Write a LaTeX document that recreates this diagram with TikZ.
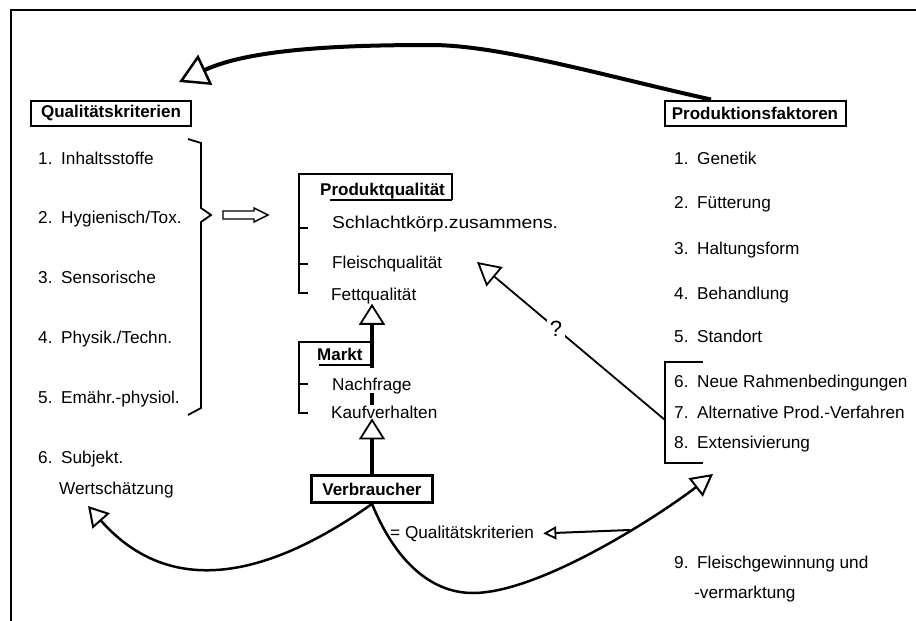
\documentclass[tikz,border=0pt]{standalone}
\usepackage{fontspec}
\setmainfont{Liberation Sans}
\usetikzlibrary{arrows.meta}
\newcommand{\itemno}[1]{\makebox[23pt][l]{#1}}
\begin{document}
\begin{tikzpicture}[x=1pt,y=-1pt,
  txt/.style={anchor=base west, inner sep=0pt, font=\fontsize{17.2}{20}\selectfont},
  boldtxt/.style={anchor=base west, inner sep=0pt, font=\fontsize{17}{20}\selectfont\bfseries},
  hbox/.style={draw, line width=2pt, inner sep=0pt, font=\fontsize{17}{20}\selectfont\bfseries},
  thinline/.style={line width=1.8pt},
  bigtri/.style={-{Triangle[open,length=21pt,width=26pt,line width=1.8pt]}},
]
\useasboundingbox (0,0) rectangle (916,621);
% frame
\draw[line width=1.6pt] (11,621) -- (11,10) -- (916,10);

% headings
\node[hbox, minimum width=160pt, minimum height=25pt] (qk) at (111,113) {Qualitätskriterien};
\node[hbox, minimum width=181pt, minimum height=25pt] (pf) at (755,113) {Produktionsfaktoren};

% left list
\node[txt] (l1) at (38,164) {\itemno{1.}Inhaltsstoffe};
\node[txt] (l2) at (38,223) {\itemno{2.}Hygienisch/Tox.};
\node[txt] (l3) at (38,283) {\itemno{3.}Sensorische};
\node[txt] (l4) at (38,343) {\itemno{4.}Physik./Techn.};
\node[txt] (l5) at (38,403) {\itemno{5.}Emähr.-physiol.};
\node[txt] (l6) at (38,463) {\itemno{6.}Subjekt.};
\node[txt] (l6b) at (59,494) {Wertschätzung};

% right list
\node[txt] (r1) at (674,164) {\itemno{1.}Genetik};
\node[txt] (r2) at (674,208) {\itemno{2.}Fütterung};
\node[txt] (r3) at (674,254) {\itemno{3.}Haltungsform};
\node[txt] (r4) at (674,299) {\itemno{4.}Behandlung};
\node[txt] (r5) at (674,342) {\itemno{5.}Standort};
\node[txt] (r6) at (674,387) {\itemno{6.}Neue Rahmenbedingungen};
\node[txt] (r7) at (674,418) {\itemno{7.}Alternative Prod.-Verfahren};
\node[txt] (r8) at (674,448) {\itemno{8.}Extensivierung};
\node[txt] (r9) at (674,568) {\itemno{9.}Fleischgewinnung und};
\node[txt] (r9b) at (694,598) {-vermarktung};

% centre: Produktqualitaet
\node[boldtxt] (pq) at (320,195) {Produktqualität};
\node[txt] (s1) at (332,228) {\scalebox{1.12}[1]{Schlachtkörp.zusammens.}};
\node[txt] (s2) at (332,268) {Fleischqualität};
\node[txt] (s3) at (331,300) {Fettqualität};
\draw[thinline] (452,200) -- (452,174) -- (299,174) -- (299,293) -- (308,293);
\draw[thinline] (330,200) -- (452,200);
\draw[thinline] (299,228) -- (308,228);
\draw[thinline] (299,264) -- (308,264);

% Markt
\node[boldtxt] (mk) at (317,360) {Markt};
\node[txt] (kv) at (331,418) {Kaufverhalten};
\draw[thinline] (373,342) -- (299,342) -- (299,413) -- (308,413);
\draw[thinline] (319,365) -- (373,365);
\draw[thinline] (299,384) -- (308,384);

% Verbraucher
\node[hbox, line width=2.8pt, minimum width=121pt, minimum height=27pt] (vb) at (372,489) {Verbraucher};
\node[txt] (qk2) at (390,538) {= Qualitätskriterien};

% thick vertical arrows
\draw[line width=4.5pt, bigtri] (vb.north |- kv.north) -- (vb.north |- s3.south);
\draw[line width=4.5pt, bigtri] (vb.north) -- (vb.north |- kv.south);
\node[txt, fill=white, text height=22pt, text depth=3pt] (nf) at (332,390) {Nachfrage};

% brace and hollow block arrow
\draw[thinline, line join=miter] (188,139) -- (201,143) -- (201,208) -- (211,215) -- (201,222) -- (201,408) -- (188,415);
\draw[line width=1.4pt, line join=miter] (223,211) -- (254,211) -- (254,208) -- (268,215) -- (254,222) -- (254,219) -- (223,219) -- cycle;

% bracket 6-8 and question arrow
\draw[thinline] (703,362) -- (665,362) -- (665,463) -- (703,463);
\coordinate (brk) at (665,420);
\coordinate (fqtip) at (477,262);
\draw[thinline, -{Triangle[open,length=23pt,width=25pt,line width=1.8pt]}] (brk) -- node[pos=0.58, fill=white, inner sep=3pt, font=\fontsize{22}{24}\selectfont] (qm) {?} (fqtip);

% top curve
\coordinate (qtip) at (179,82);
\draw[line width=4pt, -{Triangle[open,length=29pt,width=33pt,line width=2.5pt]}] ([xshift=-44pt]pf.north) .. controls (609,77) and (500,45) .. (431,45) .. controls (350,45) and (252,48) .. (qtip);

% curves from Verbraucher
\coordinate (wtip) at (88,506);
\coordinate (ptip) at (713,474);
\coordinate (br) at (630,530);
\draw[line width=2.5pt, -{Triangle[open,length=20pt,width=23pt,line width=2pt]}] (vb.south) .. controls (273,574) and (173,602) .. (wtip);
\draw[line width=2.5pt, -{Triangle[open,length=22pt,width=23pt,line width=2pt]}] (vb.south) .. controls (395,560) and (430,593) .. (473,593) .. controls (540,593) and (660,515) .. (ptip);
\draw[line width=2pt, -{Triangle[open,length=13pt,width=13pt,line width=1.8pt]}] (br) -- ([xshift=9pt]qk2.east);
\end{tikzpicture}
\end{document}
